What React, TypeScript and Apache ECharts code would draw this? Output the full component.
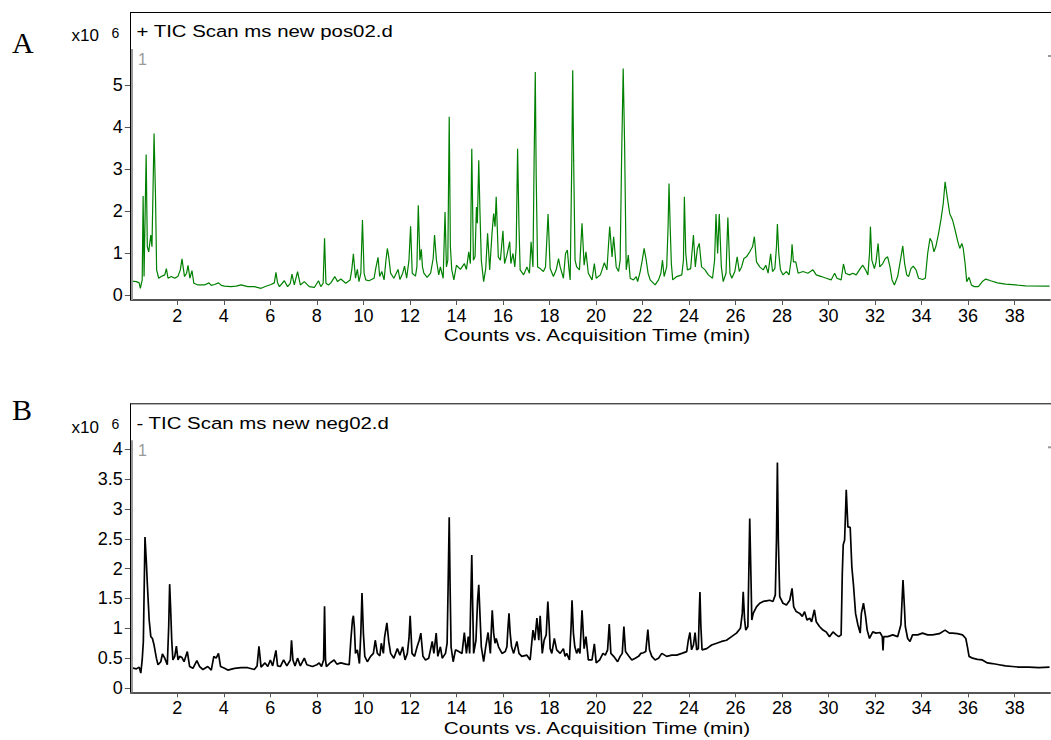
import React, { useEffect, useRef } from "react";
import * as echarts from "echarts";

const xTickValues = [2, 4, 6, 8, 10, 12, 14, 16, 18, 20, 22, 24, 26, 28, 30, 32, 34, 36, 38];
const posYTicks = [0, 1, 2, 3, 4, 5];
const negYTicks = [0, 0.5, 1, 1.5, 2, 2.5, 3, 3.5, 4];
const posTitle = "+ TIC Scan ms new pos02.d";
const negTitle = "- TIC Scan ms new neg02.d";
const xAxisTitle = "Counts vs. Acquisition Time (min)";

// positive mode TIC: [time (min), counts x10^6]
const posTIC: [number, number][] = [
  [0.03,0.33],[0.24,0.32],[0.36,0.29],[0.41,0.16],[0.49,0.36],[0.53,2.36],[0.57,0.44],[0.66,3.35],[0.71,1.15],[0.77,1.03],
  [0.86,1.43],[0.91,1.15],[1.0,3.85],[1.06,2.42],[1.11,0.6],[1.2,0.4],[1.31,0.44],[1.46,0.48],[1.53,0.63],[1.6,0.4],
  [1.74,0.44],[1.89,0.4],[2.03,0.45],[2.13,0.6],[2.2,0.86],[2.26,0.63],[2.31,0.44],[2.4,0.52],[2.46,0.71],[2.54,0.4],
  [2.63,0.58],[2.71,0.28],[2.89,0.24],[3.17,0.24],[3.36,0.29],[3.46,0.23],[3.6,0.25],[3.77,0.29],[3.89,0.23],[4.03,0.21],
  [4.31,0.2],[4.53,0.21],[4.74,0.24],[5.03,0.2],[5.31,0.2],[5.6,0.16],[5.81,0.21],[6.03,0.25],[6.17,0.29],[6.24,0.54],
  [6.31,0.29],[6.39,0.2],[6.6,0.34],[6.74,0.2],[6.86,0.28],[6.93,0.5],[7.03,0.24],[7.17,0.56],[7.29,0.24],[7.46,0.32],
  [7.67,0.2],[7.89,0.18],[8.07,0.34],[8.17,0.2],[8.27,0.28],[8.33,1.35],[8.39,0.28],[8.5,0.24],[8.6,0.29],[8.77,0.44],
  [8.89,0.32],[9.03,0.38],[9.24,0.28],[9.43,0.36],[9.5,0.6],[9.57,0.98],[9.66,0.4],[9.74,0.61],[9.81,0.32],[9.89,0.52],
  [9.96,1.79],[10.03,0.52],[10.1,0.36],[10.24,0.34],[10.46,0.4],[10.53,0.63],[10.63,0.9],[10.7,0.44],[10.79,0.56],[10.89,0.36],
  [10.97,0.83],[11.03,1.11],[11.09,0.91],[11.17,0.52],[11.31,0.4],[11.49,0.61],[11.57,0.37],[11.69,0.52],[11.77,0.69],[11.86,0.4],
  [11.96,0.83],[12.03,1.64],[12.1,0.52],[12.24,0.45],[12.3,0.67],[12.36,2.14],[12.43,0.83],[12.49,1.09],[12.54,0.67],[12.6,0.52],
  [12.74,0.42],[12.89,0.52],[13.0,0.87],[13.06,1.43],[13.14,0.83],[13.24,0.48],[13.31,0.67],[13.43,0.4],[13.51,1.98],[13.57,0.67],
  [13.63,0.83],[13.69,4.25],[13.74,1.15],[13.8,0.6],[13.89,0.36],[14.0,0.71],[14.17,0.61],[14.34,0.75],[14.43,0.61],[14.53,1.03],
  [14.6,0.75],[14.66,3.49],[14.73,0.83],[14.8,0.91],[14.86,2.1],[14.9,1.71],[14.96,3.21],[15.01,2.02],[15.07,0.83],[15.17,0.32],
  [15.26,0.63],[15.34,1.47],[15.43,0.6],[15.53,1.47],[15.6,1.94],[15.66,1.63],[15.71,2.34],[15.8,0.91],[15.89,0.83],[16.0,1.53],
  [16.07,0.75],[16.17,0.95],[16.29,1.27],[16.34,0.75],[16.43,0.99],[16.51,0.67],[16.57,1.15],[16.63,3.49],[16.69,1.63],[16.74,0.6],
  [16.89,0.48],[17.03,0.67],[17.14,0.52],[17.21,1.27],[17.29,0.67],[17.34,3.21],[17.39,5.32],[17.43,2.82],[17.49,0.67],[17.6,0.63],
  [17.74,0.56],[17.83,0.67],[17.94,1.93],[18.03,0.63],[18.17,0.44],[18.29,0.6],[18.39,0.87],[18.46,0.67],[18.6,0.4],[18.69,0.99],
  [18.77,1.07],[18.83,0.67],[18.89,0.36],[18.96,3.21],[19.0,5.36],[19.04,3.21],[19.1,0.83],[19.17,0.67],[19.29,0.6],[19.4,1.71],
  [19.49,0.71],[19.57,1.03],[19.67,0.52],[19.83,0.36],[19.93,0.75],[20.01,0.4],[20.19,0.48],[20.36,0.77],[20.47,0.6],[20.59,1.63],
  [20.69,0.91],[20.76,1.39],[20.87,0.67],[20.97,0.56],[21.04,0.83],[21.1,3.21],[21.17,5.4],[21.23,3.61],[21.3,0.6],[21.39,0.95],
  [21.47,0.4],[21.61,0.36],[21.73,0.44],[21.79,0.32],[21.9,0.56],[21.99,0.83],[22.07,1.11],[22.16,0.83],[22.24,0.52],[22.33,0.36],
  [22.54,0.24],[22.69,0.36],[22.79,0.52],[22.86,0.83],[22.93,0.44],[23.04,0.67],[23.1,1.63],[23.14,2.66],[23.19,1.63],[23.24,0.75],
  [23.3,0.36],[23.47,0.44],[23.69,0.48],[23.76,0.83],[23.8,2.34],[23.86,0.99],[23.93,0.6],[24.07,0.63],[24.19,1.43],[24.27,0.67],
  [24.36,1.11],[24.44,1.23],[24.54,0.67],[24.69,0.6],[24.83,0.48],[25.01,0.4],[25.1,0.83],[25.16,1.93],[25.23,0.99],[25.3,1.93],
  [25.39,0.67],[25.47,0.32],[25.59,0.52],[25.67,1.85],[25.76,0.52],[25.84,0.4],[25.97,0.56],[26.07,0.91],[26.16,0.56],[26.26,0.67],
  [26.36,0.87],[26.47,0.91],[26.61,1.03],[26.73,1.15],[26.81,1.39],[26.9,0.79],[27.04,0.67],[27.19,0.6],[27.3,0.71],[27.4,0.52],
  [27.51,0.98],[27.59,0.56],[27.69,0.63],[27.76,1.15],[27.8,1.69],[27.86,0.99],[27.93,0.6],[28.04,0.48],[28.19,0.56],[28.3,0.48],
  [28.39,0.83],[28.43,1.21],[28.49,0.79],[28.59,0.79],[28.69,0.52],[28.9,0.56],[29.11,0.52],[29.33,0.6],[29.47,0.48],[29.69,0.44],
  [29.9,0.4],[30.11,0.36],[30.26,0.52],[30.36,0.4],[30.54,0.36],[30.64,0.74],[30.73,0.52],[30.9,0.48],[31.04,0.52],[31.19,0.48],
  [31.36,0.63],[31.47,0.71],[31.59,0.6],[31.69,0.48],[31.76,0.99],[31.8,1.63],[31.86,0.83],[31.97,0.63],[32.04,0.79],[32.13,1.23],
  [32.2,0.67],[32.33,0.75],[32.44,0.87],[32.54,0.91],[32.64,0.67],[32.73,0.36],[32.83,0.24],[32.97,0.44],[33.09,0.83],[33.19,1.17],
  [33.27,0.75],[33.36,0.48],[33.44,0.44],[33.54,0.63],[33.64,0.69],[33.76,0.6],[33.87,0.4],[34.04,0.37],[34.16,0.4],[34.26,0.99],
  [34.36,1.35],[34.44,1.27],[34.53,1.03],[34.61,1.15],[34.73,1.47],[34.83,1.79],[34.93,2.18],[35.01,2.7],[35.1,2.34],[35.21,1.94],
  [35.33,1.79],[35.44,1.55],[35.54,1.31],[35.64,1.11],[35.73,1.23],[35.79,1.11],[35.87,0.75],[35.94,0.32],[36.04,0.42],[36.14,0.24],
  [36.26,0.2],[36.44,0.2],[36.61,0.32],[36.76,0.38],[36.97,0.34],[37.26,0.29],[37.61,0.26],[38.04,0.24],[38.47,0.22],[39.5,0.21],
];

// negative mode TIC: [time (min), counts x10^6]
const negTIC: [number, number][] = [
  [0.03,0.34],[0.24,0.32],[0.36,0.35],[0.43,0.25],[0.49,0.47],[0.54,0.78],[0.61,2.53],[0.67,2.1],[0.71,1.75],[0.79,1.14],
  [0.86,0.86],[0.93,0.83],[1.0,0.72],[1.1,0.5],[1.17,0.39],[1.29,0.44],[1.36,0.57],[1.46,0.5],[1.57,0.39],[1.63,1.03],
  [1.67,1.74],[1.71,1.36],[1.76,0.8],[1.81,0.47],[1.89,0.53],[1.96,0.7],[2.03,0.47],[2.1,0.53],[2.2,0.51],[2.29,0.44],
  [2.43,0.61],[2.53,0.36],[2.67,0.33],[2.84,0.46],[2.96,0.36],[3.1,0.31],[3.31,0.36],[3.46,0.3],[3.57,0.53],[3.67,0.5],
  [3.77,0.58],[3.86,0.36],[4.03,0.33],[4.17,0.3],[4.46,0.33],[4.74,0.34],[5.03,0.34],[5.31,0.31],[5.43,0.37],[5.51,0.7],
  [5.6,0.35],[5.77,0.42],[5.89,0.36],[6.0,0.47],[6.1,0.37],[6.24,0.63],[6.31,0.37],[6.43,0.36],[6.57,0.47],[6.71,0.37],
  [6.86,0.47],[6.91,0.8],[6.97,0.47],[7.06,0.37],[7.17,0.5],[7.29,0.37],[7.46,0.5],[7.57,0.39],[7.81,0.36],[8.0,0.39],
  [8.1,0.42],[8.2,0.36],[8.29,0.47],[8.33,1.37],[8.37,0.47],[8.41,0.36],[8.57,0.42],[8.74,0.47],[8.86,0.4],[9.03,0.42],
  [9.24,0.4],[9.39,0.39],[9.46,0.8],[9.53,1.14],[9.57,1.21],[9.61,1.03],[9.66,0.58],[9.74,0.64],[9.83,0.41],[9.89,0.92],
  [9.94,1.59],[10.0,0.92],[10.06,0.53],[10.17,0.44],[10.31,0.53],[10.43,0.58],[10.51,0.8],[10.6,0.58],[10.71,0.54],[10.77,0.75],
  [10.86,0.58],[10.91,0.85],[11.01,1.09],[11.09,0.78],[11.17,0.58],[11.31,0.5],[11.46,0.66],[11.57,0.55],[11.69,0.69],[11.79,0.47],
  [11.89,0.58],[11.96,0.83],[12.01,1.21],[12.09,0.58],[12.2,0.53],[12.31,0.69],[12.4,0.8],[12.47,0.92],[12.56,0.53],[12.67,0.47],
  [12.81,0.5],[12.96,0.78],[13.03,0.58],[13.13,0.92],[13.2,0.53],[13.31,0.69],[13.39,0.5],[13.53,0.58],[13.6,0.75],[13.64,1.64],
  [13.69,2.86],[13.73,1.64],[13.77,0.69],[13.86,0.44],[13.96,0.64],[14.1,0.61],[14.24,0.58],[14.34,0.93],[14.43,0.58],[14.51,0.86],
  [14.57,0.58],[14.61,1.36],[14.66,2.23],[14.7,1.36],[14.74,0.58],[14.84,0.8],[14.91,1.47],[14.96,1.73],[15.01,1.25],[15.07,0.69],
  [15.17,0.44],[15.26,0.69],[15.36,0.93],[15.46,0.58],[15.5,0.97],[15.54,1.3],[15.6,0.92],[15.66,0.75],[15.71,0.83],[15.81,0.69],
  [15.96,0.58],[16.1,0.61],[16.17,0.69],[16.21,0.97],[16.26,1.25],[16.31,0.92],[16.37,0.69],[16.46,0.58],[16.6,0.78],[16.69,0.58],
  [16.81,0.53],[17.03,0.55],[17.17,0.47],[17.29,0.97],[17.37,0.8],[17.46,1.17],[17.54,0.8],[17.6,1.21],[17.69,0.58],[17.77,0.8],
  [17.86,0.89],[17.93,1.45],[17.99,1.03],[18.03,0.66],[18.1,0.58],[18.21,0.83],[18.31,0.64],[18.46,0.58],[18.6,0.66],[18.67,0.53],
  [18.74,0.58],[18.86,0.47],[18.93,1.03],[18.97,1.47],[19.03,0.92],[19.09,0.69],[19.17,0.58],[19.24,0.66],[19.31,0.58],[19.4,1.3],
  [19.49,0.66],[19.57,0.86],[19.67,0.47],[19.83,0.47],[19.93,0.74],[20.01,0.42],[20.16,0.47],[20.3,0.58],[20.4,0.55],[20.5,0.64],
  [20.57,1.07],[20.64,0.58],[20.76,0.53],[20.93,0.44],[21.04,0.53],[21.13,0.58],[21.2,1.03],[21.27,0.61],[21.4,0.54],[21.54,0.47],
  [21.69,0.5],[21.83,0.53],[21.93,0.58],[22.04,0.59],[22.14,0.61],[22.23,0.98],[22.3,0.64],[22.4,0.53],[22.54,0.47],[22.69,0.5],
  [22.83,0.58],[23.04,0.53],[23.26,0.55],[23.47,0.55],[23.69,0.58],[23.9,0.61],[23.97,0.8],[24.04,0.93],[24.11,0.64],[24.19,0.72],
  [24.26,0.93],[24.33,0.64],[24.4,0.66],[24.44,1.25],[24.47,1.61],[24.51,1.03],[24.56,0.64],[24.76,0.66],[24.97,0.72],[25.19,0.75],
  [25.4,0.78],[25.61,0.8],[25.83,0.86],[26.04,0.92],[26.21,1.0],[26.29,1.25],[26.33,1.61],[26.39,1.14],[26.44,0.97],[26.53,1.03],
  [26.57,1.92],[26.61,2.84],[26.66,1.92],[26.7,1.14],[26.76,1.25],[26.9,1.36],[27.04,1.42],[27.19,1.45],[27.33,1.46],[27.47,1.47],
  [27.61,1.45],[27.71,1.56],[27.76,2.48],[27.8,3.78],[27.84,2.48],[27.9,1.53],[28.04,1.42],[28.19,1.39],[28.33,1.47],[28.43,1.67],
  [28.5,1.36],[28.61,1.28],[28.76,1.25],[28.87,1.2],[28.97,1.28],[29.07,1.14],[29.19,1.17],[29.27,1.11],[29.39,1.31],[29.47,1.11],
  [29.61,1.03],[29.76,0.97],[29.9,0.94],[30.04,0.86],[30.19,0.94],[30.33,0.89],[30.44,0.86],[30.54,0.89],[30.59,1.92],[30.63,2.4],
  [30.69,2.48],[30.76,3.32],[30.83,2.7],[30.93,2.69],[31.0,2.03],[31.07,1.73],[31.16,1.25],[31.26,1.06],[31.36,0.92],[31.41,1.25],
  [31.5,1.42],[31.59,1.2],[31.66,0.97],[31.76,0.83],[31.9,0.94],[32.04,0.92],[32.21,0.93],[32.31,0.86],[32.34,0.63],[32.37,0.86],
  [32.54,0.86],[32.76,0.89],[32.97,0.86],[33.11,1.06],[33.16,1.47],[33.2,1.81],[33.26,1.36],[33.3,1.03],[33.4,0.83],[33.5,0.78],
  [33.61,0.89],[33.83,0.89],[34.04,0.92],[34.26,0.89],[34.47,0.89],[34.76,0.91],[35.01,0.97],[35.19,0.92],[35.33,0.92],[35.54,0.91],
  [35.76,0.89],[35.9,0.83],[35.97,0.69],[36.04,0.53],[36.19,0.5],[36.4,0.48],[36.61,0.47],[36.83,0.42],[37.04,0.41],[37.33,0.39],
  [37.61,0.37],[37.9,0.36],[38.19,0.35],[38.61,0.35],[39.04,0.34],[39.5,0.35],
];

const SANS = '"Liberation Sans", Arial, sans-serif';
const SERIF = '"Liberation Serif", "Times New Roman", serif';

function makeXAxis(gridIndex: number) {
  return {
    type: "value",
    gridIndex,
    min: 0,
    max: 39.52,
    axisLine: { show: true, onZero: false, lineStyle: { color: "#555", width: 2 } },
    axisTick: { show: true, length: 5, inside: false, customValues: xTickValues, lineStyle: { color: "#555", width: 1 } },
    axisLabel: { show: true, customValues: xTickValues, margin: 7, fontSize: 18, fontFamily: SANS, color: "#000" },
    splitLine: { show: false },
  };
}

function makeYAxis(gridIndex: number, min: number, max: number, ticks: number[]) {
  return {
    type: "value",
    gridIndex,
    min,
    max,
    axisLine: { show: false },
    axisTick: { show: true, length: 6, customValues: ticks, lineStyle: { color: "#555", width: 1 } },
    axisLabel: { show: true, customValues: ticks, margin: 8, fontSize: 18, fontFamily: SANS, color: "#000" },
    splitLine: { show: false },
  };
}

function panelGraphics(top: number, bottom: number, letter: string, letterY: number, title: string, offsetY: number) {
  return [
    { type: "line", shape: { x1: 130.5, y1: top + 0.5, x2: 1051, y2: top + 0.5 }, style: { stroke: "#000", lineWidth: 1 }, z: 10 },
    { type: "line", shape: { x1: 130.5, y1: top, x2: 130.5, y2: bottom }, style: { stroke: "#000", lineWidth: 1 }, z: 10 },
    { type: "rect", shape: { x: 131, y: top + 37, width: 2, height: bottom - top - 37 }, style: { fill: "#9a9a9a" }, z: 10 },
    { type: "rect", shape: { x: 1048, y: top + 43, width: 3, height: 2 }, style: { fill: "#999" }, z: 10 },
    { type: "text", x: 12, y: letterY, style: { text: letter, font: `30px ${SERIF}`, fill: "#000", verticalAlign: "middle" }, z: 10 },
    { type: "text", x: 71.5, y: 35.8 + offsetY, style: { text: "x10", font: `17px ${SANS}`, fill: "#000", verticalAlign: "middle" }, z: 10 },
    { type: "text", x: 111.5, y: 32.5 + offsetY, style: { text: "6", font: `14px ${SANS}`, fill: "#000", verticalAlign: "middle" }, z: 10 },
    { type: "text", x: 136.5, y: 31.2 + offsetY, scaleX: 1.2, style: { text: title, font: `17px ${SANS}`, fill: "#000", verticalAlign: "middle" }, z: 10 },
    { type: "text", x: 138, y: 59 + offsetY, style: { text: "1", font: `16px ${SANS}`, fill: "#999", verticalAlign: "middle" }, z: 10 },
    { type: "text", x: 597, y: bottom + 35.5, scaleX: 1.22, style: { text: xAxisTitle, font: `17px ${SANS}`, fill: "#000", align: "center", verticalAlign: "middle" }, z: 10 },
  ];
}

export default function App() {
  const ref = useRef<HTMLDivElement>(null);
  useEffect(() => {
    if (!ref.current) return;
    const chart = echarts.init(ref.current, undefined, { renderer: "svg" });
    const option = {
      animation: false,
      backgroundColor: "#fff",
      grid: [
        { left: 130.8, top: 12, width: 919.2, height: 288 },
        { left: 130.8, top: 403.3, width: 919.2, height: 289 },
      ],
      xAxis: [makeXAxis(0), makeXAxis(1)],
      yAxis: [makeYAxis(0, -0.119, 6.748, posYTicks), makeYAxis(1, -0.072, 4.77, negYTicks)],
      series: [
        {
          type: "line", xAxisIndex: 0, yAxisIndex: 0, data: posTIC, showSymbol: false, symbol: "none",
          lineStyle: { color: "#008000", width: 1.2 }, silent: true,
        },
        {
          type: "line", xAxisIndex: 1, yAxisIndex: 1, data: negTIC, showSymbol: false, symbol: "none",
          lineStyle: { color: "#000", width: 1.7 }, silent: true,
        },
      ],
      graphic: [
        ...panelGraphics(12, 300, "A", 42.5, posTitle, 0),
        ...panelGraphics(403.3, 692.3, "B", 409, negTitle, 391.5),
      ],
    };
    chart.setOption(option as any);
    return () => chart.dispose();
  }, []);
  return <div ref={ref} style={{ position: "fixed", left: 0, top: 0, width: 1051, height: 740, background: "#fff" }} />;
}
